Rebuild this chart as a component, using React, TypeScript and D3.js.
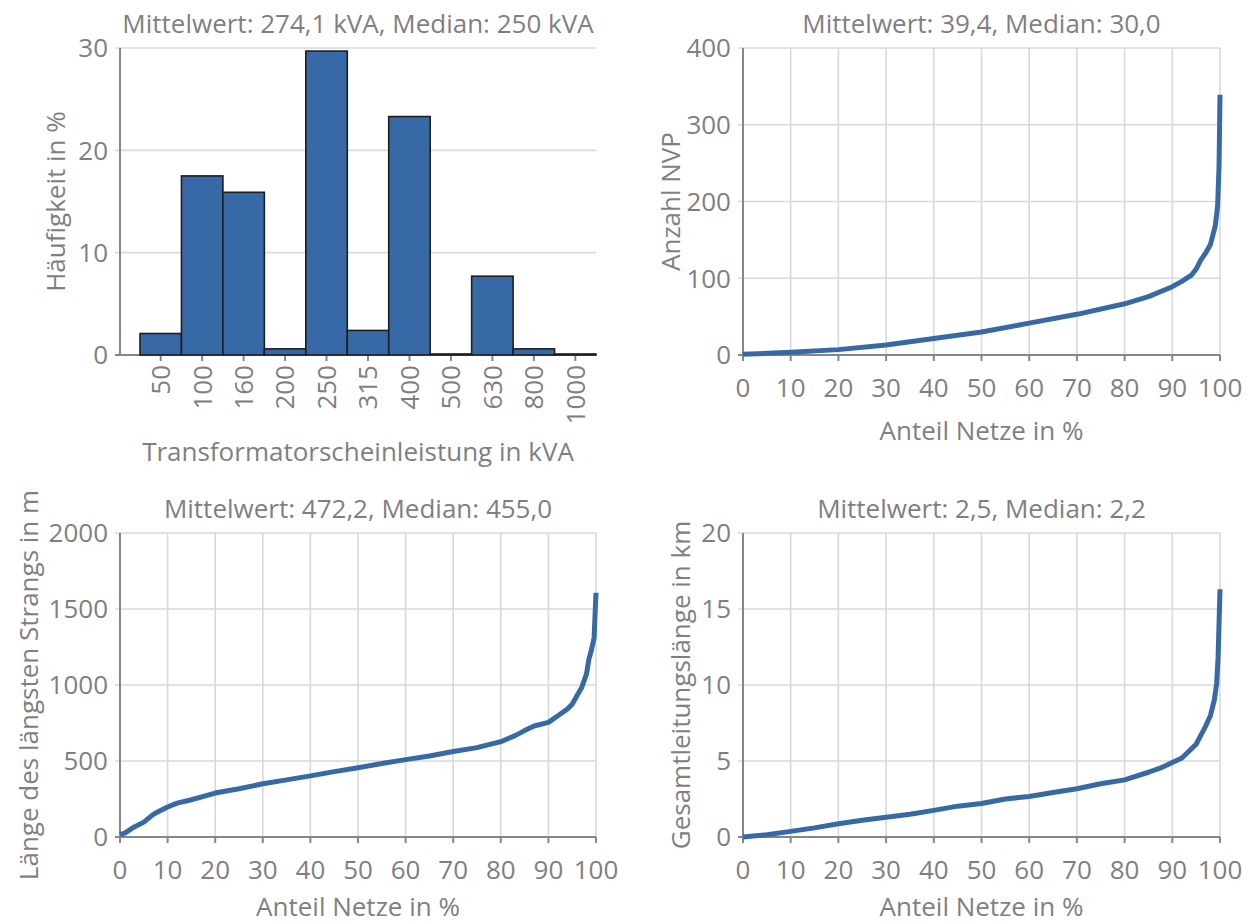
import React from 'react';
import * as d3 from 'd3';

// Transformer rating histogram
const ratings = ['50', '100', '160', '200', '250', '315', '400', '500', '630', '800', '1000'];
const shares = [2.1, 17.5, 15.9, 0.6, 29.7, 2.4, 23.3, 0.1, 7.7, 0.6, 0.1];
const shareTicks = [0, 10, 20, 30];

// Number of grid connection points (sorted, share of grids)
const nvpShare = [0, 10, 20, 30, 40, 50, 60, 70, 80, 85, 90, 92, 94, 95, 96, 97, 98, 99, 99.5, 99.8, 100];
const nvpCount = [1, 3.5, 7, 13, 21.5, 30, 41.5, 53, 66.7, 76, 89, 96, 104, 112, 124, 133, 144, 168, 194, 246, 339];
const nvpTicks = [0, 100, 200, 300, 400];

// Length of the longest feeder
const strangShare = [0, 1, 3, 5, 7, 8, 10, 12, 15, 20, 25, 30, 35, 40, 45, 50, 55, 60, 65, 70, 75, 80, 83, 85, 87, 90, 92, 94, 95, 96, 97, 98, 98.5, 99, 99.6, 100];
const strangLength = [15, 26, 66, 98, 149, 166, 197, 223, 245, 289, 317, 350, 376, 402, 430, 455, 483, 509, 533, 562, 588, 627, 667, 700, 730, 754, 798, 842, 874, 929, 984, 1071, 1169, 1224, 1311, 1607];
const strangTicks = [0, 500, 1000, 1500, 2000];

// Total line length
const lineShare = [0, 5, 10, 15, 20, 25, 30, 35, 40, 45, 50, 55, 60, 65, 70, 75, 80, 85, 88, 90, 92, 94, 95, 96, 97, 98, 98.8, 99.3, 99.6, 100];
const lineLength = [0, 0.15, 0.37, 0.6, 0.87, 1.1, 1.3, 1.5, 1.75, 2.03, 2.2, 2.5, 2.67, 2.93, 3.17, 3.5, 3.76, 4.26, 4.6, 4.9, 5.2, 5.8, 6.1, 6.7, 7.3, 8.0, 9.0, 10.1, 11.8, 16.3];
const lineTicks = [0, 5, 10, 15, 20];

const shareAxisTicks = [0, 10, 20, 30, 40, 50, 60, 70, 80, 90, 100];

const FONT = "'Open Sans', 'Noto Sans', sans-serif";
const TEXT = '#7f7f7f';
const AXIS = '#868686';
const GRID = '#d9d9d9';
const BLUE = '#3769a6';
const FS = 26;

type Box = { x0: number; x1: number; y0: number; y1: number };

function YAxis({ box, y, ticks, title, titleX }: { box: Box; y: d3.ScaleLinear<number, number>; ticks: number[]; title: string; titleX: number }) {
  const cy = (box.y0 + box.y1) / 2;
  return (
    <g>
      {ticks.map((t) => (
        <text key={t} x={box.x0 - 12} y={y(t)} dy="0.36em" textAnchor="end" fontSize={FS} fill={TEXT}>
          {t}
        </text>
      ))}
      <text transform={`translate(${titleX},${cy}) rotate(-90)`} textAnchor="middle" dy="0.36em" fontSize={FS} fill={TEXT}>
        {title}
      </text>
    </g>
  );
}

function CurvePanel({ box, xs, ys, yTicks, title, yTitle, yTitleX }: { box: Box; xs: number[]; ys: number[]; yTicks: number[]; title: string; yTitle: string; yTitleX: number }) {
  const x = d3.scaleLinear().domain([0, 100]).range([box.x0, box.x1]);
  const y = d3.scaleLinear().domain([yTicks[0], yTicks[yTicks.length - 1]]).range([box.y1, box.y0]);
  const pts = xs.map((v, i) => [v, ys[i]] as [number, number]);
  const path = d3
    .line<[number, number]>()
    .x((d) => x(d[0]))
    .y((d) => y(d[1]))(pts) as string;
  const cx = (box.x0 + box.x1) / 2;
  return (
    <g>
      {shareAxisTicks.map((t) => (
        <line key={'vx' + t} x1={x(t)} x2={x(t)} y1={box.y0} y2={box.y1} stroke={GRID} strokeWidth={1.6} />
      ))}
      {yTicks.map((t) => (
        <line key={'hy' + t} x1={box.x0 - 5} x2={box.x1} y1={y(t)} y2={y(t)} stroke={t === 0 ? AXIS : GRID} strokeWidth={t === 0 ? 2 : 1.6} />
      ))}
      {shareAxisTicks.map((t) => (
        <line key={'tk' + t} x1={x(t)} x2={x(t)} y1={box.y1} y2={box.y1 + 6} stroke={AXIS} strokeWidth={2} />
      ))}
      <line x1={box.x0} x2={box.x0} y1={box.y0} y2={box.y1} stroke={AXIS} strokeWidth={2} />
      <path d={path} fill="none" stroke={BLUE} strokeWidth={5} strokeLinejoin="round" />
      {shareAxisTicks.map((t) => (
        <text key={'xl' + t} x={x(t)} y={box.y1 + 42} textAnchor="middle" fontSize={FS} fill={TEXT}>
          {t}
        </text>
      ))}
      <text x={cx} y={Math.min(box.y1 + 85, 916)} textAnchor="middle" fontSize={FS} fill={TEXT}>
        Anteil Netze in %
      </text>
      <text x={cx} y={box.y0 - 15} textAnchor="middle" fontSize={FS} fill={TEXT}>
        {title}
      </text>
      <YAxis box={box} y={y} ticks={yTicks} title={yTitle} titleX={yTitleX} />
    </g>
  );
}

function HistPanel({ box }: { box: Box }) {
  const barStart = box.x0 + 20;
  const x = d3.scaleBand<string>().domain(ratings).range([barStart, box.x1]).padding(0);
  const y = d3.scaleLinear().domain([0, 30]).range([box.y1, box.y0]);
  const cx = (box.x0 + box.x1) / 2;
  return (
    <g>
      {shareTicks.map((t) => (
        <line key={'g' + t} x1={box.x0 - 5} x2={box.x1} y1={y(t)} y2={y(t)} stroke={t === 0 ? AXIS : GRID} strokeWidth={t === 0 ? 2 : 1.6} />
      ))}
      <line x1={box.x0} x2={box.x0} y1={box.y0} y2={box.y1} stroke={AXIS} strokeWidth={2} />
      {ratings.map((r) => (
        <line key={'t' + r} x1={(x(r) as number) + x.bandwidth() / 2} x2={(x(r) as number) + x.bandwidth() / 2} y1={box.y1} y2={box.y1 + 6} stroke={AXIS} strokeWidth={2} />
      ))}
      {ratings.map((r, i) => (
        <rect
          key={'b' + r}
          x={x(r) as number}
          y={y(shares[i])}
          width={x.bandwidth()}
          height={y(0) - y(shares[i])}
          fill={BLUE}
          stroke="#1e1e1e"
          strokeWidth={1.6}
        />
      ))}
      {ratings.map((r) => {
        const bx = (x(r) as number) + x.bandwidth() / 2;
        return (
          <text key={'l' + r} transform={`translate(${bx},${box.y1 + 10}) rotate(-90)`} dy="0.36em" textAnchor="end" fontSize={FS} fill={TEXT}>
            {r}
          </text>
        );
      })}
      <text x={cx} y={box.y1 + 106} textAnchor="middle" fontSize={FS} fill={TEXT}>
        Transformatorscheinleistung in kVA
      </text>
      <text x={cx} y={box.y0 - 15} textAnchor="middle" fontSize={FS} fill={TEXT}>
        Mittelwert: 274,1 kVA, Median: 250 kVA
      </text>
      <YAxis box={box} y={y} ticks={shareTicks} title="Häufigkeit in %" titleX={56} />
    </g>
  );
}

export default function App() {
  const p1: Box = { x0: 120, x1: 596, y0: 48, y1: 355 };
  const p2: Box = { x0: 743, x1: 1220, y0: 48, y1: 355 };
  const p3: Box = { x0: 120, x1: 596, y0: 533, y1: 837 };
  const p4: Box = { x0: 743, x1: 1220, y0: 533, y1: 837 };
  return (
    <svg
      width={1249}
      height={924}
      style={{ position: 'absolute', left: 0, top: 0, background: '#fff' }}
      fontFamily={FONT}
    >
      <rect width={1249} height={924} fill="#fff" />
      <HistPanel box={p1} />
      <CurvePanel box={p2} xs={nvpShare} ys={nvpCount} yTicks={nvpTicks} title="Mittelwert: 39,4, Median: 30,0" yTitle="Anzahl NVP" yTitleX={671} />
      <CurvePanel box={p3} xs={strangShare} ys={strangLength} yTicks={strangTicks} title="Mittelwert: 472,2, Median: 455,0" yTitle="Länge des längsten Strangs in m" yTitleX={29} />
      <CurvePanel box={p4} xs={lineShare} ys={lineLength} yTicks={lineTicks} title="Mittelwert: 2,5, Median: 2,2" yTitle="Gesamtleitungslänge in km" yTitleX={681} />
    </svg>
  );
}
